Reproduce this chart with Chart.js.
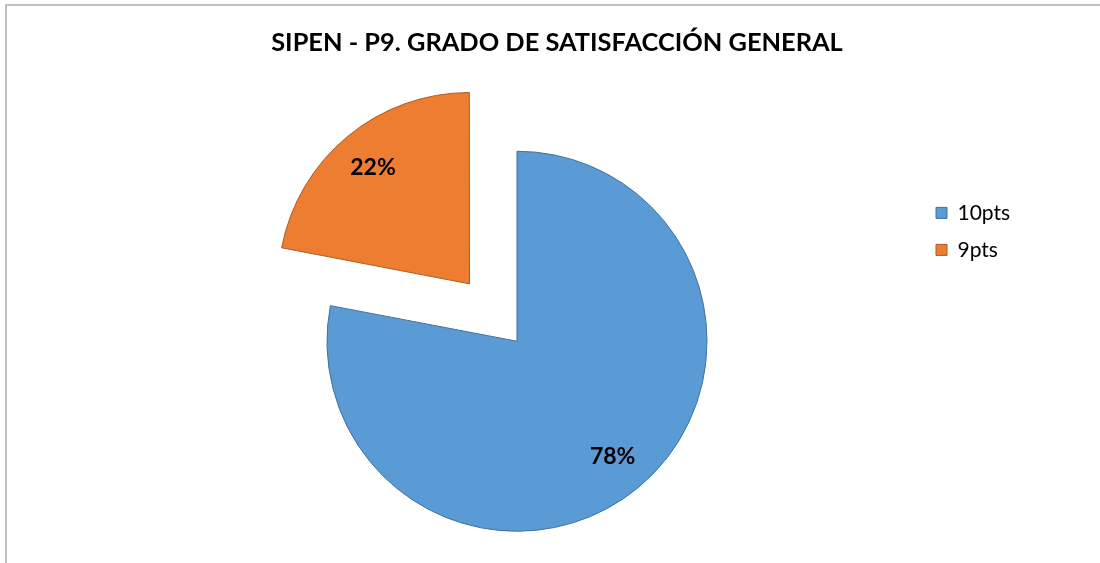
<!DOCTYPE html>
<html>
<head>
<meta charset="utf-8">
<script src="https://cdn.jsdelivr.net/npm/chart.js@4.4.1/dist/chart.umd.min.js"></script>
<style>
  html, body { margin: 0; padding: 0; background: #fff; overflow: hidden; }
  #wrap { position: relative; width: 1100px; height: 563px; }
  #frame { position: absolute; left: 5px; top: 4px; width: 1200px; height: 700px;
           border-left: 2px solid #c0c0c0; border-top: 2px solid #c0c0c0; }
  canvas { position: absolute; left: 0; top: 0; }
</style>
</head>
<body>
<div id="wrap">
  <div id="frame"></div>
  <canvas id="chartSatisfaccion" width="1100" height="563"></canvas>
</div>
<script>
var categorias = ['10pts', '9pts'];
var valores = [78, 22];

// etiquetas de porcentaje dentro de cada sector
var etiquetasPct = {
    id: 'etiquetasPct',
    afterDatasetsDraw: function (chart) {
        var ctx = chart.ctx;
        var meta = chart.getDatasetMeta(0);
        var total = valores.reduce(function (a, b) { return a + b; }, 0);
        ctx.save();
        ctx.font = 'bold 23px Lato';
        ctx.fillStyle = '#000';
        ctx.textAlign = 'center';
        ctx.textBaseline = 'middle';
        meta.data.forEach(function (arc, i) {
            var p = arc.getProps(['x', 'y', 'startAngle', 'endAngle', 'outerRadius'], true);
            var mid = (p.startAngle + p.endAngle) / 2;
            var off = (arc.options.offset || 0) / 4;
            var fix = 1 - Math.sin(Math.min(Math.PI, p.endAngle - p.startAngle));
            var d = p.outerRadius * 0.79 + off * (1 + fix);
            var txt = Math.round(valores[i] / total * 100) + '%';
            ctx.fillText(txt, p.x + Math.cos(mid) * d, p.y + Math.sin(mid) * d);
        });
        ctx.restore();
    }
};

// la leyenda ocupa poco ancho en el layout, pero no se recorta al dibujar
var leyendaSinRecorte = {
    id: 'leyendaSinRecorte',
    beforeDraw: function (chart) {
        chart.legend.right = chart.width;
    }
};

var satisfaccion = document.getElementById('chartSatisfaccion').getContext('2d');
var chart = new Chart(satisfaccion, {
    type: 'pie',
    data: {
        labels: categorias,
        datasets: [{
            data: valores,
            backgroundColor: ['#5b9bd5', '#ed7d31'],
            borderColor: ['#41719c', '#ae5a21'],
            borderWidth: 1,
            offset: [0, 298],
            radius: 190,
            clip: false
        }]
    },
    options: {
        responsive: false,
        animation: false,
        devicePixelRatio: 1,
        layout: { padding: { left: 114, right: 100, top: 0, bottom: 0 } },
        plugins: {
            title: {
                display: true,
                text: 'SIPEN - P9. GRADO DE SATISFACCIÓN GENERAL',
                color: '#000',
                font: { family: 'Lato', size: 25.4, weight: 'bold' },
                padding: { top: 28, bottom: 61 }
            },
            legend: {
                position: 'right',
                align: 'start',
                maxWidth: 80,
                title: { display: true, text: ' ', padding: { top: 0, bottom: 172 } },
                labels: {
                    color: '#000',
                    font: { family: 'Lato', size: 21 },
                    boxWidth: 11,
                    boxHeight: 11,
                    padding: 16
                }
            },
            tooltip: { enabled: false }
        }
    },
    plugins: [etiquetasPct, leyendaSinRecorte]
});
</script>
</body>
</html>
